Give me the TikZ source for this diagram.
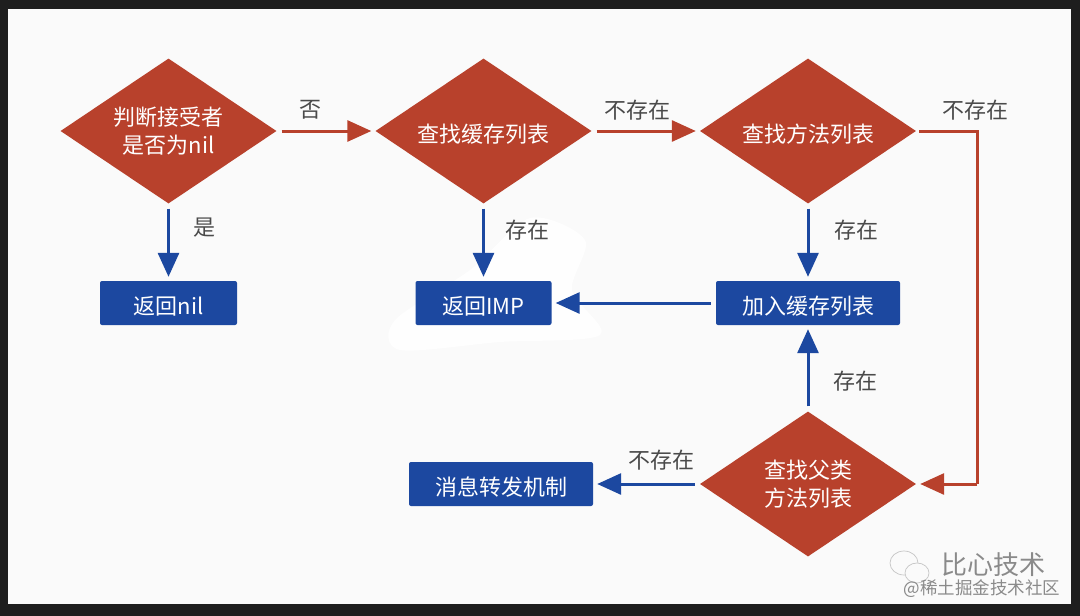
\documentclass[tikz,border=0pt]{standalone}
\usepackage{fontspec}
\setmainfont{Noto Sans CJK SC}
\usetikzlibrary{arrows.meta,shapes.geometric}
\definecolor{brick}{HTML}{B8412C}
\definecolor{navy}{HTML}{1C48A0}
\definecolor{panel}{HTML}{FAFAFA}
\definecolor{patch}{HTML}{FEFEFE}
\definecolor{frame}{HTML}{1E1E1E}
\definecolor{caption}{HTML}{4A4A4A}
\definecolor{mark}{HTML}{8A8A8A}

\begin{document}
\begin{tikzpicture}[x=1pt,y=-1pt]
        \tikzset{lowered/.style = {execute at begin node={\rule{0pt}{24pt}}}}
        \tikzset{decision/.style = {shape=diamond,aspect=1.49,fill=brick,text=white,inner sep=0pt,minimum width=216pt,minimum height=145pt,align=center,lowered,font=\fontsize{22}{28}\selectfont}}
        \tikzset{result/.style = {shape=rectangle,rounded corners=2pt,fill=navy,text=white,minimum height=44pt,lowered,font=\fontsize{22}{26}\selectfont}}
        \tikzset{caption/.style = {text=caption,inner sep=0pt,font=\fontsize{22}{26}\selectfont}}
        \tikzset{edge/.style = {line width=3pt,-{Triangle[length=24pt,width=21pt]},shorten <=5pt,shorten >=4pt}}
        \tikzset{redge/.style = {edge,brick}}
        \tikzset{bedge/.style = {edge,navy}}
        \useasboundingbox (0,0) rectangle (1080,616);
        \fill[frame] (0,0) rectangle (1080,616);
        \fill[panel] (8,9) rectangle (1071,604);
        \fill[patch] plot[smooth cycle] coordinates {(530,218) (585,240) (572,290) (600,335) (500,342) (400,350) (395,320) (470,270)};
        % vertices
        \node[decision] (nilcheck) at (168.5,131) {判断接受者\\是否为nil};
        \node[decision] (cache) at (483.5,131) {查找缓存列表};
        \node[decision] (methods) at (808,131) {查找方法列表};
        \node[decision] (parent) at (808,484) {查找父类\\方法列表};
        \node[result,minimum width=137pt] (retnil) at (168.5,303) {返回nil};
        \node[result,minimum width=136pt] (retimp) at (483.5,303) {返回IMP};
        \node[result,minimum width=184pt] (addcache) at (808,303) {加入缓存列表};
        \node[result,minimum width=184pt] (forward) at (501,484) {消息转发机制};
        \coordinate (turntop) at (977,131);
        \coordinate (turnbottom) at (977,484);
        %edges
        \draw[redge] (nilcheck) to node[caption,pos=0.34,yshift=21pt] (nolabel) {否} (cache);
        \draw[redge] (cache) to node[caption,pos=0.426,yshift=21pt] (missa) {不存在} (methods);
        \draw[brick,line width=3pt,shorten <=3pt] (methods) -- (turntop) -- (turnbottom);
        \draw[redge,shorten <=0pt] (turnbottom) -- (parent);
        \node[caption] (missb) at (975,110) {不存在};
        \draw[bedge] (nilcheck) to (retnil);
        \draw[bedge] (cache) to (retimp);
        \draw[bedge] (methods) to (addcache);
        \draw[bedge] (addcache) to (retimp);
        \draw[bedge] (parent) to (addcache);
        \draw[bedge] (parent) to (forward);
        \node[caption] (yeslabel) at (204,228) {是};
        \node[caption] (hita) at (527,230) {存在};
        \node[caption] (hitb) at (856,230) {存在};
        \node[caption] (hitc) at (855,381) {存在};
        \node[caption] (missc) at (661,460) {不存在};
        % watermark
        \draw[mark!50,line width=0.7pt] (904,563) ellipse [x radius=14pt,y radius=12pt];
        \draw[mark!50,line width=0.7pt,fill=panel] (917,573) ellipse [x radius=12pt,y radius=10pt];
        \node[text=mark,inner sep=0pt,font=\fontsize{26}{28}\selectfont] (brand) at (993,565) {比心技术};
        \node[text=mark,inner sep=0pt,font=\fontsize{17.5}{20}\selectfont] (site) at (982,589) {@稀土掘金技术社区};
    \end{tikzpicture}
\end{document}
